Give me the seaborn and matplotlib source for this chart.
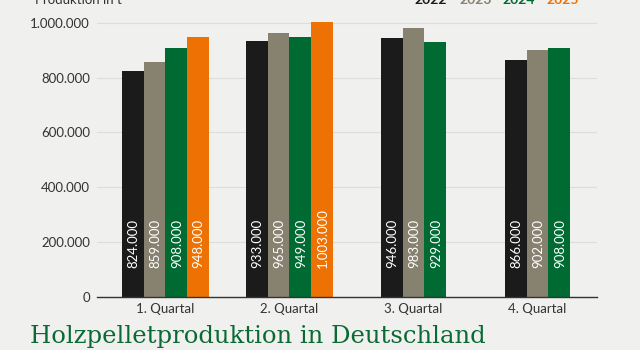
import matplotlib
matplotlib.use("Agg")
import matplotlib.pyplot as plt
import seaborn as sns
import pandas as pd
import numpy as np

quarters = ["1. Quartal", "2. Quartal", "3. Quartal", "4. Quartal"]
years = ["2022", "2023", "2024", "2025"]
v2022 = [824000, 933000, 946000, 866000]
v2023 = [859000, 965000, 983000, 902000]
v2024 = [908000, 949000, 929000, 908000]
v2025 = [948000, 1003000, None, None]
yticks = [0, 200000, 400000, 600000, 800000, 1000000]
ytick_labels = ["0", "200.000", "400.000", "600.000", "800.000", "1.000.000"]

colors = {"2022": "#1b1b1b", "2023": "#878170", "2024": "#006a33", "2025": "#ee7203"}
BG = "#f0f1ee"
BARW = 0.175

rows = []
series = {"2022": v2022, "2023": v2023, "2024": v2024, "2025": v2025}
for qi, q in enumerate(quarters):
    present = [y for y in years if series[y][qi] is not None]
    n = len(present)
    for k, y in enumerate(present):
        rows.append({"quarter": q, "year": y, "value": series[y][qi],
                     "pos": qi + (k - (n - 1) / 2) * BARW})
df = pd.DataFrame(rows)

sns.set_theme(style="white")
plt.rcParams["font.family"] = ["Lato", "DejaVu Sans"]

fig = plt.figure(figsize=(6.4, 3.5), dpi=100, facecolor=BG)
ax = fig.add_axes([97 / 640, 1 - 296.5 / 350, 500 / 640, 296.5 / 350])
ax.set_facecolor(BG)

sns.barplot(data=df, x="pos", y="value", hue="year", hue_order=years,
            palette=colors, native_scale=True, dodge=False, width=1.0,
            saturation=1, legend=False, ax=ax, linewidth=0, errorbar=None)

ax.set_xlim(-0.55, 3.48)
ax.set_ylim(0, 296.5 / 273.5 * 1e6)
ax.set_yticks(yticks)
ax.set_yticklabels(ytick_labels)
ax.set_xticks(range(len(quarters)))
ax.set_xticklabels(quarters)
ax.set_xlabel("")
ax.set_ylabel("")
ax.grid(axis="y", color="#dddeda", linewidth=0.8)
ax.set_axisbelow(True)
for s in ["top", "right", "left"]:
    ax.spines[s].set_visible(False)
ax.spines["bottom"].set_color("#333333")
ax.spines["bottom"].set_linewidth(1.0)
ax.tick_params(axis="both", length=0, labelsize=9.5, colors="#333333")
ax.tick_params(axis="y", pad=5)
ax.tick_params(axis="x", pad=5)

# value labels inside bars
for p in ax.patches:
    h = p.get_height()
    if h is None or np.isnan(h) or h == 0:
        continue
    xc = p.get_x() + p.get_width() / 2
    lab = f"{int(round(h)):,}".replace(",", ".")
    ax.annotate(lab, (xc, 0), xytext=(0.5, 20.5), textcoords="offset points",
                rotation=90, ha="center", va="bottom", color="white",
                fontsize=9.5)

fig.text(35 / 640, 1 - 4 / 350, "Produktion in t", ha="left", va="baseline",
         fontsize=9.5, color="#333333")
legend_x = [414, 459, 502, 546]
for x, y in zip(legend_x, years):
    fig.text(x / 640, 1 - 4 / 350, y, ha="left", va="baseline", fontsize=10,
             fontweight="bold", color=colors[y])

fig.text(30 / 640, 1 - 343 / 350, "Holzpelletproduktion in Deutschland",
         ha="left", va="baseline", fontsize=17.5, color="#0b6a34",
         family=["DejaVu Serif"])

fig.savefig("out.png", dpi=100, facecolor=BG)
